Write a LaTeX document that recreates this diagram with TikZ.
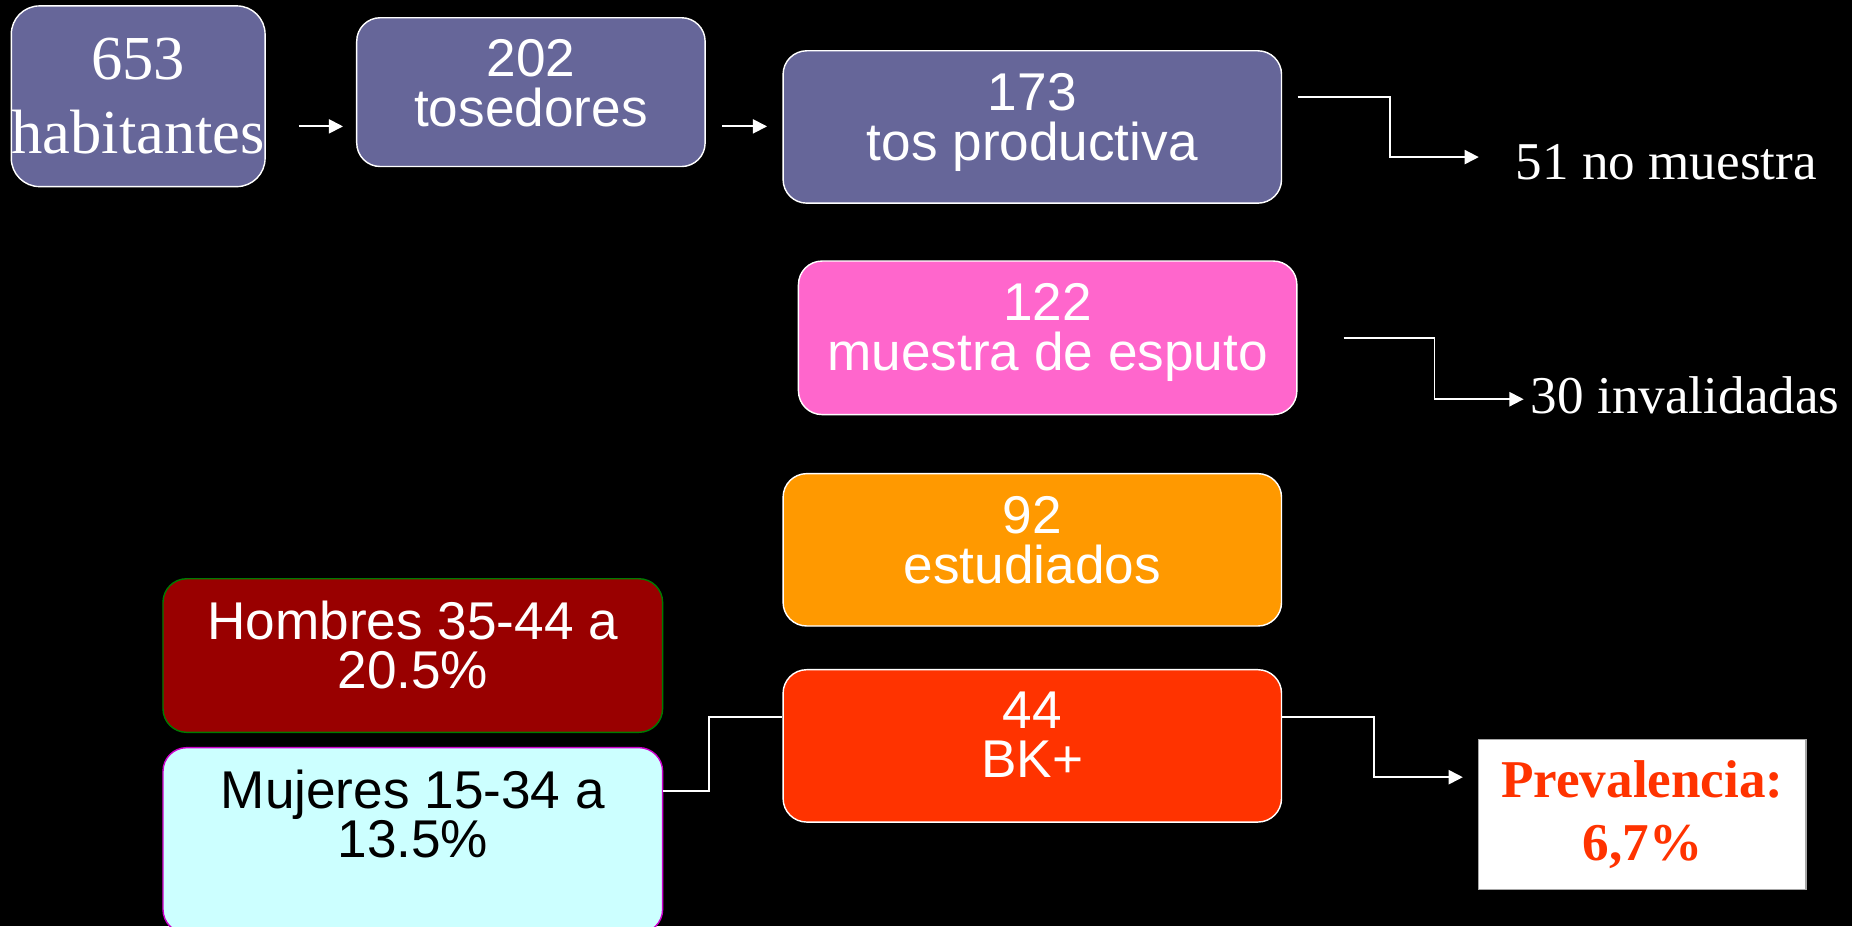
\documentclass[tikz,border=0pt]{standalone}
\usepackage{fontspec}
\setmainfont{Liberation Serif}
\setsansfont{Liberation Sans}
\usetikzlibrary{arrows.meta}
\definecolor{slate}{HTML}{666699}
\definecolor{rose}{HTML}{FF66CC}
\definecolor{amber}{HTML}{FF9900}
\definecolor{scarlet}{HTML}{FF3300}
\definecolor{wine}{HTML}{990000}
\definecolor{ice}{HTML}{CCFFFF}
\definecolor{leaf}{HTML}{007A00}
\definecolor{orchid}{HTML}{CC00CC}
\newcommand\lowr[1]{\rule[-#1]{0pt}{#1}}
\begin{document}
\begin{tikzpicture}
    [x=1pt,y=-1pt,
     box/.style={rectangle,rounded corners=20pt,draw=white,line width=1.2pt,
       minimum width=422pt,minimum height=129pt,inner sep=0pt,align=center,
       text=white,font=\sffamily\fontsize{45}{42}\selectfont},
     conn/.style={draw=white,line width=1.5pt},
     arr/.style={conn,-{Triangle[length=12pt,width=12pt]}}]
    \useasboundingbox (0,0) rectangle (1568,784);
    \fill[black] (0,0) rectangle (1568,784);
    \node[box,fill=slate,minimum width=214pt,minimum height=153pt,rounded corners=24pt,
      font=\rmfamily\fontsize{53}{63}\selectfont](hab) at (117,81.5){653\\habitantes};
    \node[box,fill=slate,minimum width=295pt,minimum height=126pt](tos) at (449.5,78)
      {202\\tosedores\lowr{16pt}};
    \node[box,fill=slate](p173) at (874,107.5){173\\tos productiva\lowr{17pt}};
    \node[box,fill=rose,minimum height=130pt](p122) at (887,286)
      {122\\muestra de esputo\lowr{18pt}};
    \node[box,fill=amber](p92) at (874,465.5){92\\estudiados\lowr{17pt}};
    \node[box,fill=scarlet](p44) at (874,631.5){44\\BK+\lowr{19pt}};
    \node[box,fill=wine,draw=leaf,minimum width=423pt,minimum height=130pt](hom)
      at (349.5,555){Hombres 35-44 a\\20.5\%\lowr{18pt}};
    \node[box,fill=ice,draw=orchid,text=black,minimum width=423pt,minimum height=157pt](muj)
      at (349.5,711.5){Mujeres 15-34 a\\13.5\%\lowr{45pt}};
    \node[rectangle,fill=white,draw=gray!70,line width=1pt,minimum width=277pt,
      minimum height=127pt,align=center,text=scarlet,
      font=\rmfamily\bfseries\fontsize{45}{53}\selectfont](prev) at (1390.5,689.5)
      {Prevalencia:\\6,7\%};
    \node[anchor=base west,inner sep=0pt,text=white,font=\fontsize{45}{54}\selectfont](nom)
      at (1283,152){51 no muestra};
    \node[anchor=base west,inner sep=0pt,text=white,font=\fontsize{45}{54}\selectfont](inv)
      at (1296,350){30 invalidadas};
    \draw[arr,shorten <=28pt,shorten >=11pt] (hab.east |- 0,107) -- (tos.west |- 0,107);
    \draw[arr,shorten <=14pt,shorten >=13pt] (tos.east |- 0,107) -- (p173.west |- 0,107);
    \draw[arr,shorten <=13pt,shorten >=31pt] (p173.east |- 0,82) -- ++(91,0) |- (nom.west |- 0,133);
    \draw[arr,shorten <=39pt,shorten >=6pt] (p122.east) -- ++(116,0) |- (inv.west |- 0,338);
    \draw[conn] (muj.east |- 0,670) -- ++(38.5,0) |- (p44.west |- 0,607);
    \draw[arr,shorten >=13pt] (p44.east |- 0,607) -- ++(78,0) |- (prev.west |- 0,658);
\end{tikzpicture}
\end{document}
